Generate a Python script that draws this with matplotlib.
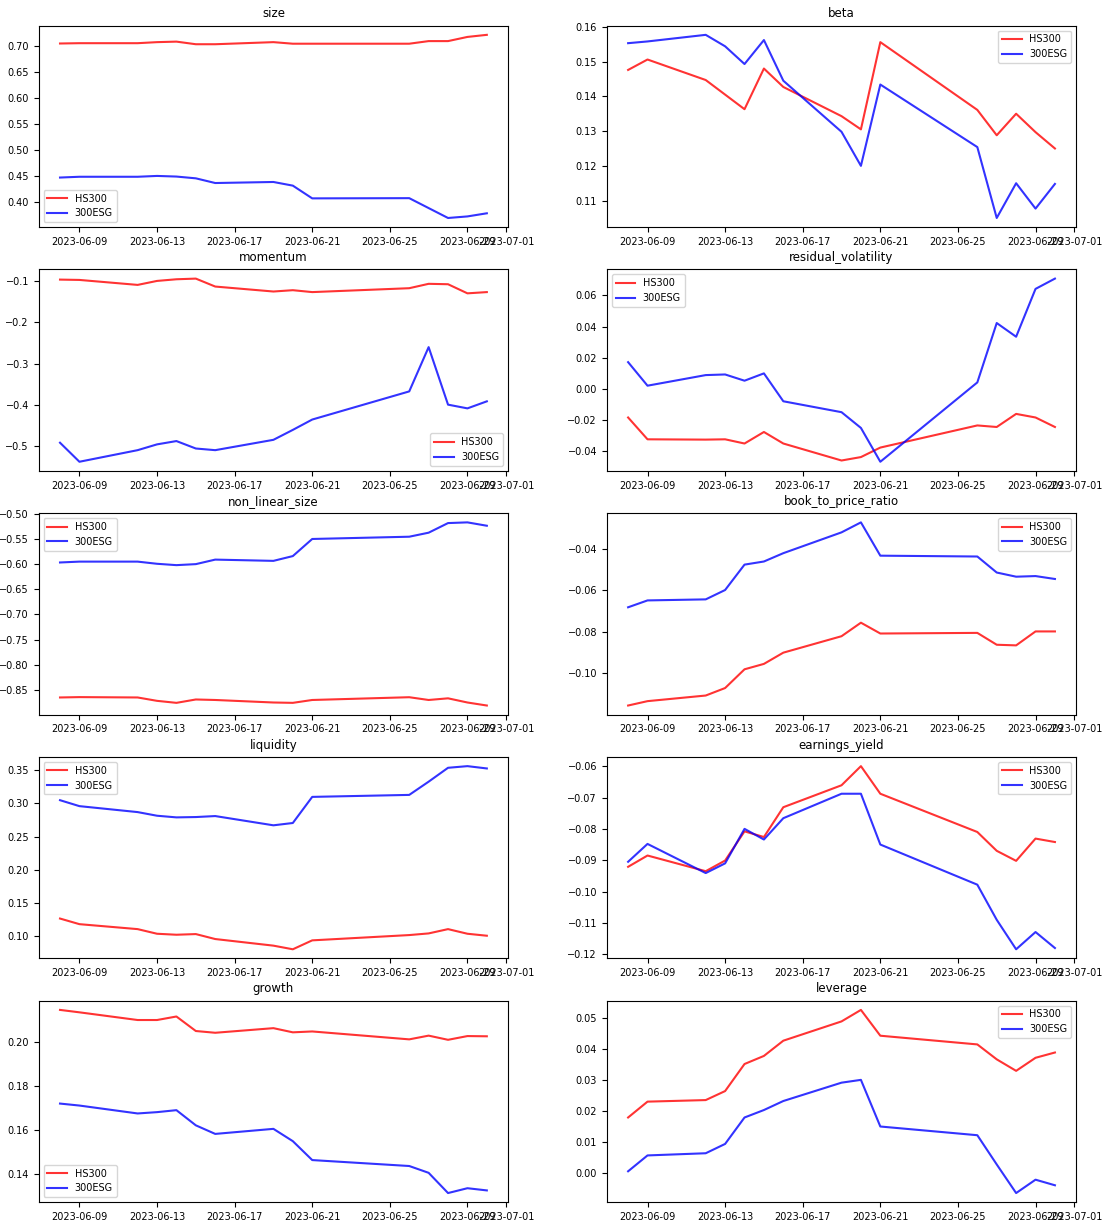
import numpy as np
import pandas as pd
import matplotlib
matplotlib.use('Agg')
from matplotlib import pyplot as plt
import matplotlib.dates as mdates

dates = pd.to_datetime(['2023-06-08', '2023-06-09', '2023-06-12', '2023-06-13', '2023-06-14',
                        '2023-06-15', '2023-06-16', '2023-06-19', '2023-06-20', '2023-06-21',
                        '2023-06-26', '2023-06-27', '2023-06-28', '2023-06-29', '2023-06-30'])

factors = ['size', 'beta', 'momentum', 'residual_volatility', 'non_linear_size',
           'book_to_price_ratio', 'liquidity', 'earnings_yield', 'growth', 'leverage']

hs300 = {
    'size': [0.7044, 0.705, 0.705, 0.707, 0.708, 0.703, 0.703, 0.707, 0.704, 0.704,
             0.704, 0.709, 0.709, 0.717, 0.721],
    'beta': [0.1476, 0.1506, 0.1447, 0.1405, 0.1363, 0.148, 0.1427, 0.1343, 0.1305, 0.1556,
             0.1361, 0.1288, 0.135, 0.1297, 0.125],
    'momentum': [-0.0968, -0.0976, -0.1096, -0.100, -0.096, -0.0944, -0.1136, -0.1256, -0.1224, -0.127,
                 -0.1176, -0.107, -0.108, -0.130, -0.127],
    'residual_volatility': [-0.0183, -0.0323, -0.0325, -0.0323, -0.035, -0.0276, -0.035, -0.0459, -0.0437, -0.0376,
                            -0.0234, -0.0244, -0.016, -0.0183, -0.0244],
    'non_linear_size': [-0.865, -0.8643, -0.865, -0.8717, -0.8757, -0.869, -0.870, -0.875, -0.8757, -0.870,
                        -0.8645, -0.870, -0.8667, -0.875, -0.881],
    'book_to_price_ratio': [-0.1154, -0.1133, -0.1106, -0.107, -0.098, -0.0954, -0.090, -0.0821, -0.0756, -0.0808,
                            -0.0805, -0.0862, -0.0865, -0.0798, -0.0798],
    'liquidity': [0.126, 0.1175, 0.110, 0.103, 0.1015, 0.1025, 0.095, 0.085, 0.0795, 0.093,
                  0.101, 0.1035, 0.110, 0.103, 0.100],
    'earnings_yield': [-0.0921, -0.0885, -0.0935, -0.0901, -0.0808, -0.0826, -0.0731, -0.0661, -0.060, -0.0688,
                       -0.081, -0.087, -0.0902, -0.0831, -0.0842],
    'growth': [0.2146, 0.2135, 0.210, 0.210, 0.2116, 0.205, 0.2042, 0.2063, 0.2044, 0.2048,
               0.2012, 0.2029, 0.201, 0.2027, 0.2026],
    'leverage': [0.0179, 0.023, 0.0235, 0.0264, 0.0351, 0.0377, 0.0426, 0.0488, 0.0525, 0.0442,
                 0.0414, 0.0366, 0.0329, 0.0371, 0.0388],
}

esg300 = {
    'size': [0.4475, 0.449, 0.449, 0.4506, 0.4494, 0.446, 0.437, 0.439, 0.432, 0.4076,
             0.408, 0.389, 0.370, 0.373, 0.379],
    'beta': [0.1553, 0.1558, 0.1577, 0.1544, 0.1493, 0.1562, 0.1445, 0.1298, 0.120, 0.1434,
             0.1254, 0.105, 0.115, 0.1077, 0.1148],
    'momentum': [-0.491, -0.537, -0.509, -0.495, -0.487, -0.505, -0.509, -0.484, -0.460, -0.435,
                 -0.367, -0.260, -0.399, -0.408, -0.391],
    'residual_volatility': [0.0172, 0.0021, 0.0089, 0.0093, 0.0053, 0.010, -0.0079, -0.0149, -0.025, -0.0467,
                            0.0042, 0.0423, 0.0335, 0.0642, 0.0708],
    'non_linear_size': [-0.5967, -0.595, -0.595, -0.5993, -0.602, -0.600, -0.591, -0.5935, -0.584, -0.550,
                        -0.5455, -0.5375, -0.5184, -0.517, -0.5237],
    'book_to_price_ratio': [-0.0682, -0.0649, -0.0644, -0.0599, -0.0477, -0.0462, -0.0422, -0.0322, -0.0274, -0.0434,
                            -0.0438, -0.0515, -0.0535, -0.0532, -0.0546],
    'liquidity': [0.305, 0.296, 0.287, 0.2815, 0.279, 0.2795, 0.281, 0.267, 0.2705, 0.310,
                  0.313, 0.333, 0.354, 0.3565, 0.353],
    'earnings_yield': [-0.0905, -0.0848, -0.0941, -0.091, -0.080, -0.0834, -0.0766, -0.0688, -0.0688, -0.085,
                       -0.0978, -0.109, -0.1184, -0.1129, -0.118],
    'growth': [0.172, 0.1711, 0.1675, 0.1681, 0.169, 0.1621, 0.1582, 0.1605, 0.1549, 0.1463,
               0.1436, 0.1405, 0.1313, 0.1335, 0.1325],
    'leverage': [0.0006, 0.0057, 0.0064, 0.0094, 0.0179, 0.0203, 0.0232, 0.0291, 0.030, 0.015,
                 0.0122, 0.0028, -0.0064, -0.0021, -0.0039],
}

legend_locs = ['lower left', 'upper right', 'lower right', 'upper left', 'upper left',
               'upper right', 'upper left', 'upper right', 'lower left', 'upper right']

fig, axes = plt.subplots(nrows=5, ncols=2, figsize=(11.05, 12.23), dpi=100)
fig.subplots_adjust(left=0.035, right=0.974, top=0.979, bottom=0.017, wspace=0.21, hspace=0.21)

ax = axes.ravel()
for i, name in enumerate(factors):
    a = ax[i]
    a.plot(dates, hs300[name], color='red', alpha=0.8, lw=1.5, label='HS300')
    a.plot(dates, esg300[name], color='blue', alpha=0.8, lw=1.5, label='300ESG')
    a.set_title(name, fontsize=8.5)
    a.xaxis.set_major_locator(mdates.DayLocator(bymonthday=range(1, 32, 4)))
    a.xaxis.set_major_formatter(mdates.DateFormatter('%Y-%m-%d'))
    a.tick_params(labelsize=7)
    a.legend(loc=legend_locs[i], fontsize=7)

plt.savefig('out.png', dpi=100)
